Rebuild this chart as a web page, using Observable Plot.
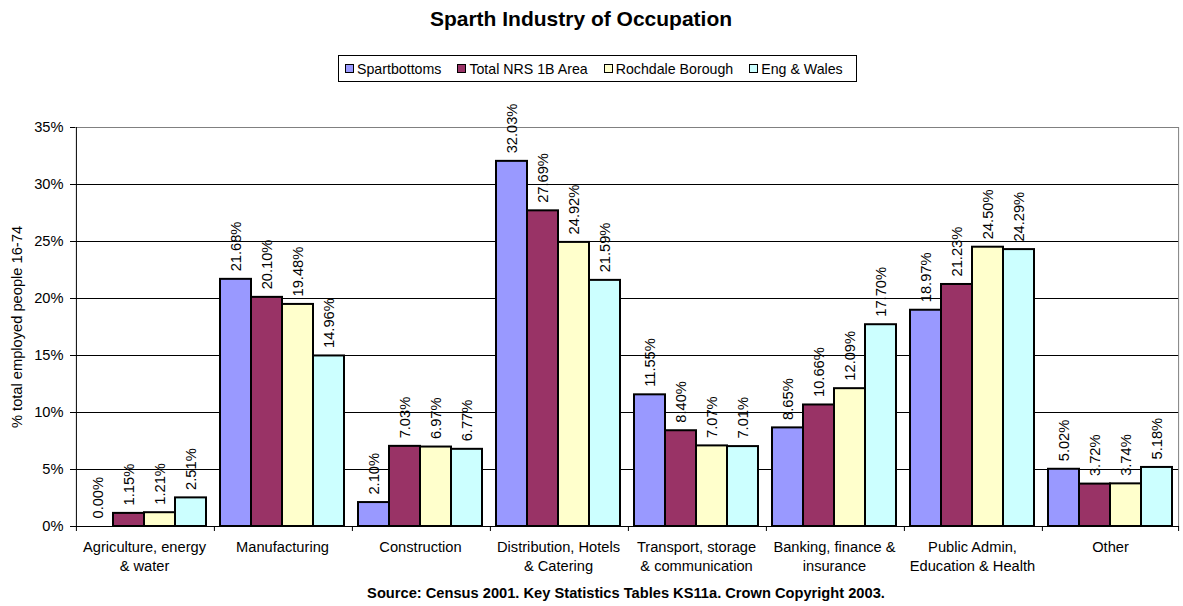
<!DOCTYPE html>
<html>
<head>
<meta charset="utf-8">
<script src="https://cdn.jsdelivr.net/npm/d3@7"></script>
<script src="https://cdn.jsdelivr.net/npm/@observablehq/plot@0.6"></script>
<style>
  body { margin: 0; background: #fff; font-family: Arial, "Liberation Sans", sans-serif; color: #000; }
  #wrap { position: relative; width: 1183px; height: 606px; overflow: hidden; }
  #title { position: absolute; top: 7px; left: 581px; transform: translateX(-50%); white-space: nowrap; font-weight: bold; font-size: 21px; line-height: 24px; }
  #legend { position: absolute; left: 338px; top: 55px; width: 519px; height: 27px; box-sizing: border-box; border: 1px solid #000;
            display: flex; align-items: center; padding-left: 6px; font-size: 14.2px; white-space: nowrap; }
  .item { display: flex; align-items: center; margin-right: 16px; }
  .sw { width: 7px; height: 7px; border: 1.5px solid #000; margin-right: 3px; }
  #chart { position: absolute; left: 0; top: 100px; }
  #caption { position: absolute; top: 584px; left: 626px; transform: translateX(-50%); white-space: nowrap; font-weight: bold; font-size: 14.67px; line-height: 18px; }
</style>
</head>
<body>
<div id="wrap">
  <div id="title">Sparth Industry of Occupation</div>
  <div id="legend"></div>
  <div id="chart"></div>
  <div id="caption">Source: Census 2001. Key Statistics Tables KS11a. Crown Copyright 2003.</div>
</div>
<script>
// ---- data ----
const categories = ["Agriculture, energy & water", "Manufacturing", "Construction", "Distribution, Hotels & Catering",
  "Transport, storage & communication", "Banking, finance & insurance", "Public Admin, Education & Health", "Other"];
const categoryTickLabels = ["Agriculture, energy\n& water", "Manufacturing", "Construction", "Distribution, Hotels\n& Catering",
  "Transport, storage\n& communication", "Banking, finance &\ninsurance", "Public Admin,\nEducation & Health", "Other"];
const seriesNames = ["Spartbottoms", "Total NRS 1B Area", "Rochdale Borough", "Eng & Wales"];
const seriesColors = ["#9999FF", "#993366", "#FFFFCC", "#CCFFFF"];
const spartbottoms = [0.00, 21.68, 2.10, 32.03, 11.55, 8.65, 18.97, 5.02];
const totalNRS1B   = [1.15, 20.10, 7.03, 27.69, 8.40, 10.66, 21.23, 3.72];
const rochdale     = [1.21, 19.48, 6.97, 24.92, 7.07, 12.09, 24.50, 3.74];
const engWales     = [2.51, 14.96, 6.77, 21.59, 7.01, 17.70, 24.29, 5.18];
const yTicks = [0, 5, 10, 15, 20, 25, 30, 35];
const yTickLabels = ["0%", "5%", "10%", "15%", "20%", "25%", "30%", "35%"];
const yLabel = "% total employed people 16-74";

// ---- table built from the arrays ----
const seriesValues = [spartbottoms, totalNRS1B, rochdale, engWales];
const rows = categories.flatMap((c, i) => seriesNames.map((s, j) => ({category: c, series: s, value: seriesValues[j][i]})));
const firstRows = categories.map(c => ({category: c, series: seriesNames[0]}));
const lastRow = [{category: categories[categories.length - 1], series: seriesNames[seriesNames.length - 1]}];
const firstRow = [{category: categories[0], series: seriesNames[0]}];

// ---- layout ----
const W = 1183, H = 475, mL = 73, mR = 2, mT = 27, mB = 49;
const po = 0.18;
const fxStep = (W - mL - mR) / categories.length;
const xStep = fxStep / (seriesNames.length + 2 * po);
const edge = xStep * (0.5 + po);
const font = "Arial, 'Liberation Sans', sans-serif";
const fs = 14.67;

// legend
const legend = document.getElementById("legend");
seriesNames.forEach((s, j) => {
  const it = document.createElement("div"); it.className = "item";
  const sw = document.createElement("div"); sw.className = "sw"; sw.style.background = seriesColors[j];
  const tx = document.createElement("span"); tx.textContent = s;
  it.appendChild(sw); it.appendChild(tx); legend.appendChild(it);
});

const chart = Plot.plot({
  width: W, height: H,
  marginLeft: mL, marginRight: mR, marginTop: mT, marginBottom: mB,
  style: {fontFamily: font, fontSize: fs + "px", color: "#000", background: "transparent", overflow: "visible"},
  fx: {domain: categories, padding: 0, label: null},
  x: {domain: seriesNames, paddingInner: 0, paddingOuter: po, axis: null},
  y: {domain: [0, 35], label: null},
  color: {domain: seriesNames, range: seriesColors},
  marks: [
    Plot.gridY(yTicks.filter(v => v > 0 && v < 35), {stroke: "#000", strokeOpacity: 1, strokeWidth: 1}),
    Plot.gridY([35], {stroke: "#808080", strokeOpacity: 1, strokeWidth: 1}),
    Plot.ruleX(lastRow, {fx: "category", x: "series", dx: edge, stroke: "#808080", strokeWidth: 1}),
    Plot.ruleX(firstRow, {fx: "category", x: "series", dx: -edge, stroke: "#000", strokeWidth: 1}),
    Plot.barY(rows, {fx: "category", x: "series", y: "value", fill: "series", stroke: "#000", strokeWidth: 2}),
    Plot.ruleY([0], {stroke: "#000", strokeWidth: 1}),
    Plot.ruleX(firstRows, {fx: "category", x: "series", y1: 0, y2: 0, insetBottom: -5, dx: -edge, stroke: "#000"}),
    Plot.ruleX(lastRow, {fx: "category", x: "series", y1: 0, y2: 0, insetBottom: -5, dx: edge, stroke: "#000"}),
    Plot.text(rows, {fx: "category", x: "series", y: "value", text: d => d.value.toFixed(2) + "%",
      rotate: -90, textAnchor: "start", dy: -8, fill: "#000", fontSize: fs}),
    Plot.axisY({ticks: yTicks, tickFormat: d => yTickLabels[yTicks.indexOf(d)], tickSize: 5, tickPadding: 7,
      label: yLabel, labelAnchor: "center", labelArrow: "none", labelOffset: 64, fontSize: fs}),
    Plot.axisFx({anchor: "bottom", tickSize: 0, tickPadding: 12, lineHeight: 1.28,
      tickFormat: d => categoryTickLabels[categories.indexOf(d)], label: null, fontSize: fs})
  ]
});
document.getElementById("chart").appendChild(chart);
</script>
</body>
</html>
